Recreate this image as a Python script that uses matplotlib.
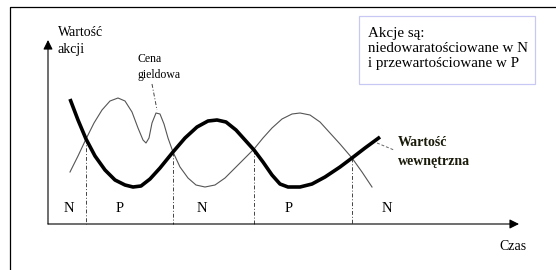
import matplotlib
matplotlib.use('Agg')
from matplotlib import pyplot as plt
from matplotlib.patches import Rectangle

# Data (pixel coordinates, y grows downward)
thick_x = [70, 78, 86, 95, 105, 115, 125, 133, 141, 150, 160, 173, 185, 197, 208, 217,
           226, 236, 245, 254, 263, 272, 280, 288, 300, 312, 325, 340, 352, 365, 380]
thick_y = [99, 120, 139, 156, 170, 180, 185, 187, 186, 179, 168, 152, 138, 127, 121, 120,
           122, 130, 140, 150, 162, 175, 184, 187, 187, 184, 177, 167, 158, 148, 137]

thin_x = [70, 78, 86, 94, 102, 110, 118, 125, 132, 138, 143, 146, 149, 152, 156, 160,
          164, 168, 173, 180, 188, 196, 205, 215, 225, 235, 245, 254, 263, 272, 282,
          292, 300, 310, 320, 330, 340, 352, 362, 372]
thin_y = [172, 156, 139, 123, 110, 101, 98, 101, 112, 128, 140, 143, 138, 123, 113, 114,
          124, 138, 152, 167, 178, 185, 187, 185, 178, 168, 158, 149, 138, 128, 119,
          114, 113, 115, 122, 133, 144, 158, 172, 187]

cross_x = [86, 173, 254, 352]
cross_y = [139, 152, 150, 158]

zone_labels = ['N', 'P', 'N', 'P', 'N']
zone_x = [69, 120, 202, 289, 387]

axis_y = 224
axis_x0 = 48
axis_x1 = 519
axis_top = 40

serif = 'Liberation Serif'


def run():
    fig = plt.figure(figsize=(5.56, 2.70), dpi=100)
    ax = fig.add_axes([0, 0, 1, 1])
    ax.set_xlim(0, 556)
    ax.set_ylim(270, 0)
    ax.axis('off')

    # Frame
    ax.plot([10, 10, 556], [270, 7, 7], color='black', lw=0.9)

    # Axes with arrows
    ax.annotate('', xy=(axis_x0, axis_top), xytext=(axis_x0, axis_y),
                arrowprops=dict(arrowstyle='-|>', color='black', lw=0.8,
                                mutation_scale=14, shrinkA=0, shrinkB=0))
    ax.annotate('', xy=(axis_x1, axis_y), xytext=(axis_x0, axis_y),
                arrowprops=dict(arrowstyle='-|>', color='black', lw=0.8,
                                mutation_scale=14, shrinkA=0, shrinkB=0))

    # Vertical dash-dot lines at crossings
    for x, y in zip(cross_x, cross_y):
        ax.plot([x, x], [y, axis_y], color='#444444', lw=0.7, ls=(0, (4, 2, 1, 2)))

    # Curves
    ax.plot(thin_x, thin_y, color='#555555', lw=0.8, solid_joinstyle='round')
    ax.plot(thick_x, thick_y, color='black', lw=2.6, solid_joinstyle='round',
            solid_capstyle='butt')

    # Leaders
    ax.plot([152, 157], [84, 110], color='#444444', lw=0.7, ls=(0, (4, 2, 1, 2)))
    ax.plot([377, 394], [143, 150], color='#666666', lw=0.7, ls=(0, (3, 2)))

    # Zone labels
    for lab, x in zip(zone_labels, zone_x):
        ax.text(x, 209, lab, family=serif, fontsize=10.5, ha='center', va='center')

    # Texts
    ax.text(58, 33, 'Wartość', family=serif, fontsize=10, ha='left', va='center')
    ax.text(58, 50, 'akcji', family=serif, fontsize=10, ha='left', va='center')
    ax.text(138, 59, 'Cena', family=serif, fontsize=8.5, ha='left', va='center')
    ax.text(138, 75, 'gieldowa', family=serif, fontsize=8.5, ha='left', va='center')
    ax.text(398, 142, 'Wartość', family=serif, fontsize=10, weight='bold',
            color='#1a1a0a', ha='left', va='center')
    ax.text(398, 161, 'wewnętrzna', family=serif, fontsize=10, weight='bold',
            color='#1a1a0a', ha='left', va='center')
    ax.text(499, 247, 'Czas', family=serif, fontsize=10, ha='left', va='center')

    # Note box
    ax.add_patch(Rectangle((359, 16), 176, 68, fill=False, ec='#c8c8f4', lw=0.9))
    box_lines = ['Akcje są:', 'niedowaratościowane w N', 'i przewartościowane w P']
    for i, line in enumerate(box_lines):
        ax.text(368, 33 + i * 15.5, line, family=serif, fontsize=10.8,
                ha='left', va='center')

    fig.savefig('out.png', dpi=100)


if __name__ == "__main__":
    run()
